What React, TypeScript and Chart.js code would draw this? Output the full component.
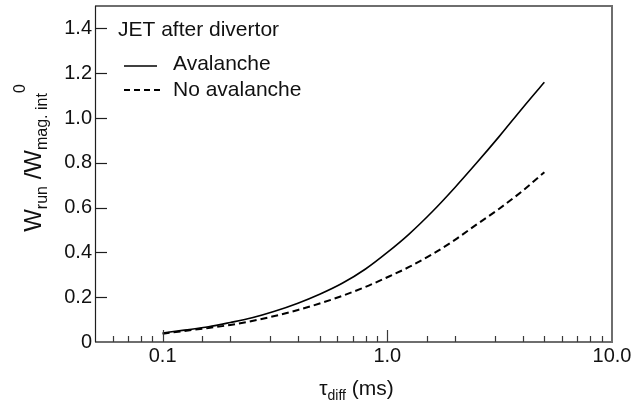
import React, { useEffect, useRef } from "react";
import { Chart, registerables } from "chart.js";

Chart.register(...registerables);

// Diffusion time (ms)
const tauDiff = [0.1, 0.125, 0.16, 0.2, 0.25, 0.315, 0.4, 0.5, 0.63, 0.8, 1.0, 1.25, 1.6, 2.0, 2.5, 3.15, 4.0, 5.0];
// Runaway energy normalised to initial magnetic energy
const avalanche = [0.040, 0.053, 0.068, 0.087, 0.108, 0.137, 0.173, 0.213, 0.262, 0.326, 0.400, 0.482, 0.586, 0.690, 0.800, 0.918, 1.045, 1.160];
const noAvalanche = [0.037, 0.049, 0.063, 0.076, 0.094, 0.116, 0.143, 0.172, 0.206, 0.246, 0.289, 0.335, 0.394, 0.456, 0.525, 0.595, 0.675, 0.758];

const yTickValues = [0, 0.2, 0.4, 0.6, 0.8, 1.0, 1.2, 1.4];
const xLabelledTicks = [0.1, 1, 10];

const seriesNames = ["Avalanche", "No avalanche"];
const annotationText = "JET after divertor";

const FONT = "'Liberation Sans', Arial, Helvetica, sans-serif";

type Piece = { text: string; size: number; dy: number };

function drawPieces(ctx: CanvasRenderingContext2D, pieces: Piece[], x0: number, y0: number) {
  let x = x0;
  for (const p of pieces) {
    ctx.font = `${p.size}px ${FONT}`;
    ctx.fillText(p.text, x, y0 + p.dy);
    x += ctx.measureText(p.text).width;
  }
}

function piecesWidth(ctx: CanvasRenderingContext2D, pieces: Piece[]) {
  let w = 0;
  for (const p of pieces) {
    ctx.font = `${p.size}px ${FONT}`;
    w += ctx.measureText(p.text).width;
  }
  return w;
}

const isLabelled = (v: number) => xLabelledTicks.some((t) => Math.abs(Math.log10(v) - Math.log10(t)) < 1e-6);

const framePlugin = {
  id: "frameAndTitles",
  afterDraw(chart: any) {
    const { ctx, chartArea } = chart;
    const { left, right, top, bottom } = chartArea;
    const xs = chart.scales.x;
    const ys = chart.scales.y;
    ctx.save();

    // frame
    ctx.strokeStyle = "#6e6e6e";
    ctx.lineWidth = 2;
    ctx.beginPath();
    ctx.moveTo(left, top);
    ctx.lineTo(right, top);
    ctx.lineTo(right, bottom);
    ctx.lineTo(left, bottom);
    ctx.stroke();
    ctx.strokeStyle = "#1e1e1e";
    ctx.lineWidth = 1.2;
    ctx.beginPath();
    ctx.moveTo(left + 0.5, top);
    ctx.lineTo(left + 0.5, bottom);
    ctx.stroke();

    // inward tick marks on the x axis (log decades + minors)
    ctx.strokeStyle = "#3a3a3a";
    ctx.lineWidth = 1.2;
    for (const t of xs.ticks) {
      const px = Math.round(xs.getPixelForValue(t.value)) + 0.5;
      if (px <= left + 1 || px >= right - 1) continue;
      const len = isLabelled(t.value) ? 12 : 6;
      ctx.beginPath();
      ctx.moveTo(px, bottom);
      ctx.lineTo(px, bottom - len);
      ctx.stroke();
    }
    // inward tick marks on the y axis
    ctx.strokeStyle = "#1e1e1e";
    for (const t of ys.ticks) {
      if (t.value === 0) continue;
      const py = Math.round(ys.getPixelForValue(t.value)) + 0.5;
      ctx.beginPath();
      ctx.moveTo(left, py);
      ctx.lineTo(left + 12, py);
      ctx.stroke();
    }

    ctx.fillStyle = "#111";
    ctx.textBaseline = "alphabetic";
    ctx.textAlign = "left";

    // annotation and legend
    ctx.font = `21px ${FONT}`;
    ctx.fillText(annotationText, 118, 36);
    ctx.fillText(seriesNames[0], 173, 70);
    ctx.fillText(seriesNames[1], 173, 96);
    ctx.strokeStyle = "#000";
    ctx.lineWidth = 1.6;
    ctx.beginPath();
    ctx.moveTo(124, 66);
    ctx.lineTo(157, 66);
    ctx.stroke();
    ctx.lineWidth = 1.8;
    ctx.setLineDash([6, 4]);
    ctx.beginPath();
    ctx.moveTo(124, 90);
    ctx.lineTo(160, 90);
    ctx.stroke();
    ctx.setLineDash([]);

    // x axis title: tau_diff (ms)
    const xTitle: Piece[] = [
      { text: "τ", size: 21, dy: 0 },
      { text: "diff", size: 14, dy: 5 },
      { text: " (ms)", size: 21, dy: 0 },
    ];
    const xw = piecesWidth(ctx, xTitle);
    drawPieces(ctx, xTitle, (left + right) / 2 - xw / 2 + 3, 395);

    // y axis title: W_run / W_mag.int^0
    const yTitle: Piece[] = [
      { text: "W", size: 24, dy: 0 },
      { text: "run", size: 16, dy: 6 },
      { text: " /W", size: 24, dy: 0 },
      { text: "mag. int", size: 16, dy: 6 },
      { text: "0", size: 16, dy: -16 },
    ];
    const yw = piecesWidth(ctx, yTitle);
    ctx.translate(41, 158);
    ctx.rotate(-Math.PI / 2);
    drawPieces(ctx, yTitle, -yw / 2, 0);

    ctx.restore();
  },
};

export default function App() {
  const canvasRef = useRef<HTMLCanvasElement | null>(null);

  useEffect(() => {
    const canvas = canvasRef.current;
    if (!canvas) return;
    const toPoints = (ys: number[]) => tauDiff.map((x, i) => ({ x, y: ys[i] }));

    const chart = new Chart(canvas, {
      type: "line",
      data: {
        datasets: [
          {
            label: seriesNames[0],
            data: toPoints(avalanche),
            borderColor: "#000",
            borderWidth: 1.6,
            pointRadius: 0,
            cubicInterpolationMode: "monotone",
            fill: false,
          },
          {
            label: seriesNames[1],
            data: toPoints(noAvalanche),
            borderColor: "#000",
            borderWidth: 2,
            borderDash: [7, 4],
            pointRadius: 0,
            cubicInterpolationMode: "monotone",
            fill: false,
          },
        ],
      },
      options: {
        responsive: false,
        animation: false,
        devicePixelRatio: 1,
        layout: { padding: { top: 6, right: 32, left: 0, bottom: 0 } },
        plugins: { legend: { display: false }, tooltip: { enabled: false } },
        scales: {
          x: {
            type: "logarithmic",
            min: 0.05,
            max: 10,
            grid: { display: false, drawTicks: false },
            border: { display: false },
            ticks: {
              autoSkip: false,
              maxRotation: 0,
              padding: 2,
              color: "#111",
              font: { size: 20, family: FONT },
              callback: (v: any) => (isLabelled(Number(v)) ? Number(v).toFixed(1) : ""),
            },
            afterFit: (scale: any) => {
              scale.height = 64;
              scale.paddingLeft = 0;
            },
          },
          y: {
            type: "linear",
            min: 0,
            max: 1.5,
            grid: { display: false, drawTicks: false },
            border: { display: false },
            afterBuildTicks: (scale: any) => {
              scale.ticks = yTickValues.map((value) => ({ value }));
            },
            ticks: {
              padding: 3,
              color: "#111",
              font: { size: 20, family: FONT },
              callback: (v: any) => (Number(v) === 0 ? "0" : Number(v).toFixed(1)),
            },
            afterFit: (scale: any) => {
              scale.width = 95;
              scale.paddingTop = 0;
              scale.paddingBottom = 0;
            },
          },
        },
      },
      plugins: [framePlugin],
    } as any);

    return () => chart.destroy();
  }, []);

  return (
    <div style={{ position: "fixed", left: 0, top: 0, width: 644, height: 406, background: "#fff" }}>
      <canvas ref={canvasRef} width={644} height={406} style={{ display: "block" }} />
    </div>
  );
}
